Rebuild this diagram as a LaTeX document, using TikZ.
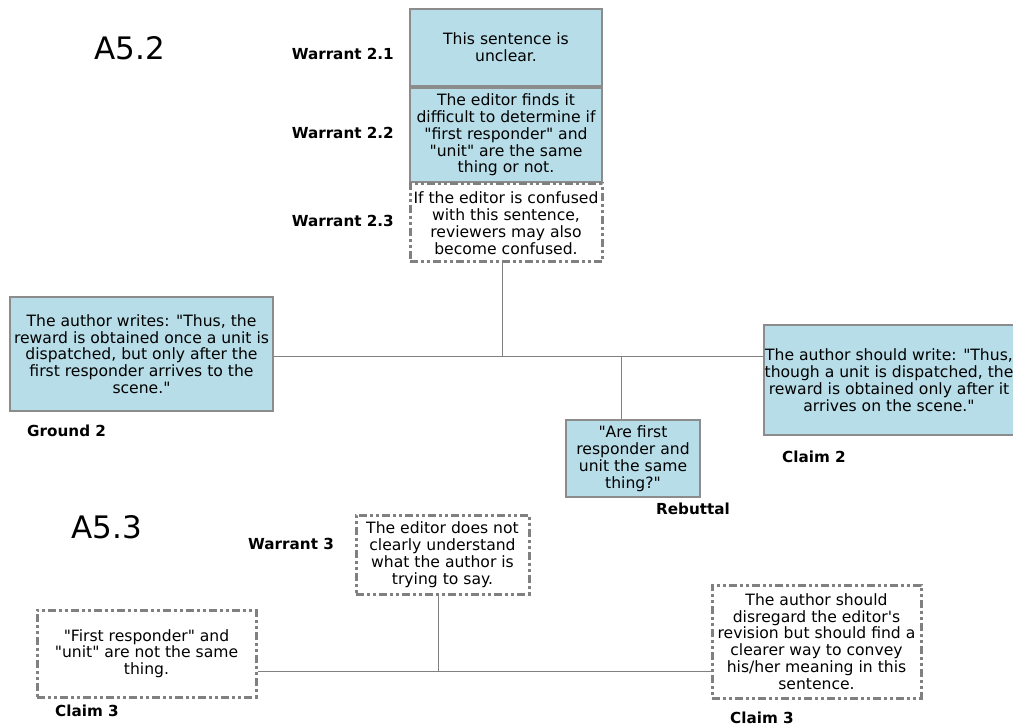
\documentclass[tikz,border=0pt]{standalone}
\usepackage{fontspec}
\setmainfont{DejaVu Sans}[Ligatures=TeXOff]
\begin{document}
\begin{tikzpicture}[x=1pt,y=-1pt,
  txt/.style={font=\fontsize{15.6}{16.8}\selectfont, align=center, inner sep=0pt},
  bluebox/.style={txt, draw=black!45, line width=1.2pt, fill=boxblue},
  dashbox/.style={txt, draw=black!50, line width=3pt, fill=white,
    dash pattern=on 8pt off 3pt on 3pt off 3pt on 3pt off 3pt},
  tag/.style={font=\fontsize{15.2}{16}\selectfont\bfseries, inner sep=0pt},
  big/.style={font=\fontsize{31}{36}\selectfont, inner sep=0pt},
  link/.style={draw=black!50, line width=1pt}]
\definecolor{boxblue}{HTML}{B7DDE8}
\useasboundingbox[fill=white] (0,0) rectangle (1013,727);

% ---- A5.2 ----
\node[big] (t52) at (130,48) {A5.2};

\node[bluebox, minimum width=192pt, minimum height=77pt] (w21) at (506,47.5)
  {This sentence is\\unclear.};
\node[bluebox, minimum width=192pt, minimum height=94pt] (w22) at (506,135)
  {The editor finds it\\difficult to determine if\\"first responder" and\\"unit" are the same\\thing or not.};
\node[dashbox, minimum width=192pt, minimum height=78pt] (w23) at (506,223)
  {If the editor is confused\\with this sentence,\\reviewers may also\\become confused.};

\node[tag, anchor=east] (lw21) at (394,54) {Warrant 2.1};
\node[tag, anchor=east] (lw22) at (394,133) {Warrant 2.2};
\node[tag, anchor=east] (lw23) at (394,221) {Warrant 2.3};

\node[bluebox, minimum width=263pt, minimum height=114pt] (g2) at (141.5,354)
  {The author writes: "Thus, the\\reward is obtained once a unit is\\dispatched, but only after the\\first responder arrives to the\\scene."};
\node[tag, anchor=west] (lg2) at (27,431) {Ground 2};

% the right part of this box runs past the page edge
\node[bluebox, minimum width=250pt, minimum height=110pt] (c2) at (889,380)
  {The author should write: "Thus,\\though a unit is dispatched, the\\reward is obtained only after it\\arrives on the scene."};
\node[tag, anchor=west] (lc2) at (782,457) {Claim 2};

\node[bluebox, minimum width=134pt, minimum height=77pt] (reb) at (633,458.5)
  {"Are first\\responder and\\unit the same\\thing?"};
\node[tag] (lreb) at (693,509) {Rebuttal};

\coordinate (j1) at (502,357);
\coordinate (j2) at (621,357);
\draw[link] (w23.south -| j1) -- (j1);
\draw[link] (g2.east |- j1) -- (c2.west |- j1);
\draw[link] (j2) -- (j2 |- reb.north);

% ---- A5.3 ----
\node[big] (t53) at (107,527) {A5.3};

\node[dashbox, minimum width=173pt, minimum height=79pt] (w3) at (442.5,554.5)
  {The editor does not\\clearly understand\\what the author is\\trying to say.};
\node[tag, anchor=west] (lw3) at (248,544) {Warrant 3};

\node[dashbox, minimum width=219pt, minimum height=87pt] (c3l) at (146.5,653.5)
  {"First responder" and\\"unit" are not the same\\thing.};
\node[tag, anchor=west] (lc3l) at (55,711) {Claim 3};

\node[dashbox, minimum width=209pt, minimum height=113pt] (c3r) at (816.5,641.5)
  {The author should\\disregard the editor's\\revision but should find a\\clearer way to convey\\his/her meaning in this\\sentence.};
\node[tag, anchor=west] (lc3r) at (730,718) {Claim 3};

\coordinate (j3) at (438,671);
\draw[link] (w3.south -| j3) -- (j3);
\draw[link] (c3l.east |- j3) -- (c3r.west |- j3);
\end{tikzpicture}
\end{document}
